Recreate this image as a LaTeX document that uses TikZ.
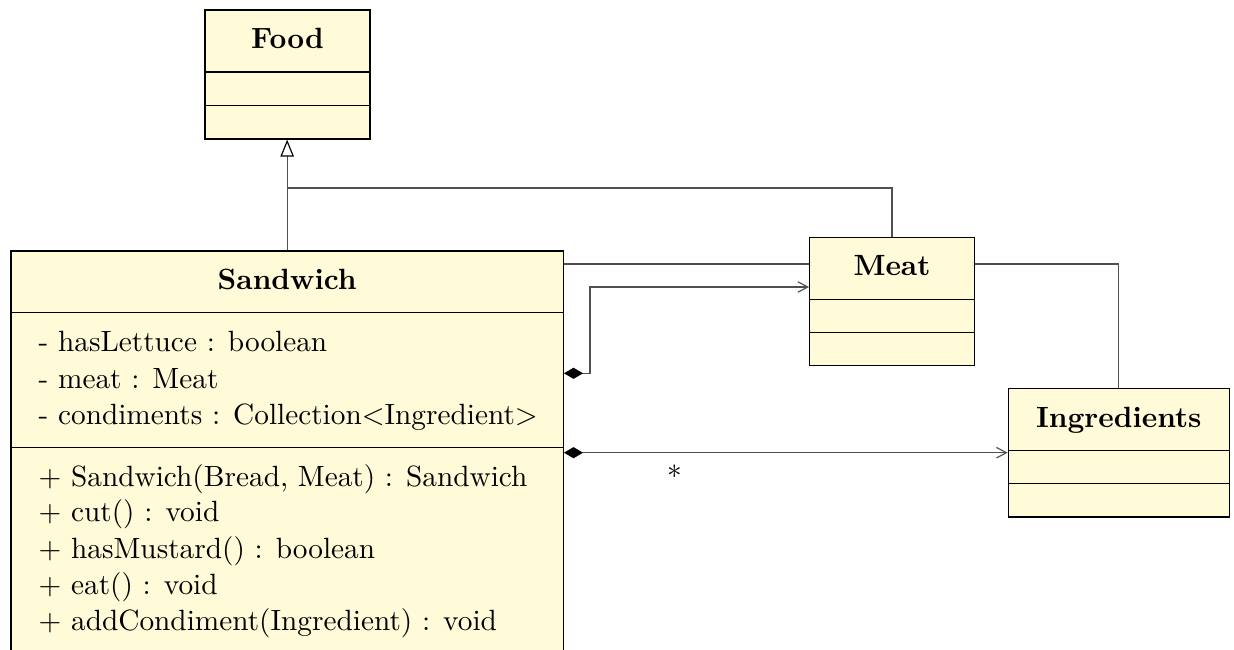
\documentclass[tikz,border=0pt]{standalone}
\usetikzlibrary{arrows.meta,fit}
\definecolor{umlfill}{RGB}{255,250,215}
\definecolor{umlline}{RGB}{80,80,80}
\begin{document}
\begin{tikzpicture}[x=0.3413pt,y=-0.3413pt,
  classbox/.style={draw=black,fill=umlfill,line width=0.45pt,inner sep=0pt},
  divider/.style={draw=black,line width=0.45pt},
  classname/.style={font=\bfseries,anchor=base,inner sep=0pt},
  member/.style={anchor=base west,inner sep=0pt},
  assoc/.style={draw=umlline,line width=0.4pt},
  gen/.style={assoc,-{Triangle[open,length=5.8pt,width=4.6pt,color=black]}},
  comp/.style={assoc,{Diamond[length=6.5pt,width=3.8pt,color=black]}-{Straight Barb[length=3.4pt,width=3.6pt]}},
]
\useasboundingbox (0,0) rectangle (1234,650);

% ---- class frames ----
\coordinate (food-nw) at (205,10);     \coordinate (food-se) at (370,139);
\coordinate (meat-nw) at (809.7,237.3); \coordinate (meat-se) at (974.3,365.7);
\coordinate (ingr-nw) at (1008.3,388.7); \coordinate (ingr-se) at (1229.3,517);
\coordinate (sand-nw) at (11,251);     \coordinate (sand-se) at (563.3,690);

\node[classbox,fit=(food-nw)(food-se)] (food) {};
\node[classbox,fit=(meat-nw)(meat-se)] (meat) {};
\node[classbox,fit=(ingr-nw)(ingr-se)] (ingredients) {};
\node[classbox,fit=(sand-nw)(sand-se)] (sandwich) {};

% compartment separators
\draw[divider] (food.west |- 0,72) -- (food.east |- 0,72);
\draw[divider] (food.west |- 0,105.7) -- (food.east |- 0,105.7);
\draw[divider] (meat.west |- 0,299.3) -- (meat.east |- 0,299.3);
\draw[divider] (meat.west |- 0,332.7) -- (meat.east |- 0,332.7);
\draw[divider] (ingredients.west |- 0,450.3) -- (ingredients.east |- 0,450.3);
\draw[divider] (ingredients.west |- 0,483.3) -- (ingredients.east |- 0,483.3);
\draw[divider] (sandwich.west |- 0,312.7) -- (sandwich.east |- 0,312.7);
\draw[divider] (sandwich.west |- 0,447.3) -- (sandwich.east |- 0,447.3);

% class names
\node[classname] (food-t) at (food.north |- 0,48.5) {Food};
\node[classname] (meat-t) at (meat.north |- 0,275.8) {Meat};
\node[classname] (ingr-t) at (ingredients.north |- 0,427) {Ingredients};
\node[classname] (sand-t) at (sandwich.north |- 0,289.5) {Sandwich};

% Sandwich attributes
\node[member] (a1) at (38,351.7) {- hasLettuce : boolean};
\node[member] (a2) at (38,388) {- meat : Meat};
\node[member] (a3) at (38,424) {- condiments : Collection$<$Ingredient$>$};

% Sandwich operations
\node[member] (m1) at (38,486.7) {$+$ Sandwich(Bread, Meat) : Sandwich};
\node[member] (m2) at (38,521.7) {$+$ cut() : void};
\node[member] (m3) at (38,558) {$+$ hasMustard() : boolean};
\node[member] (m4) at (38,594) {$+$ eat() : void};
\node[member] (m5) at (38,630) {$+$ addCondiment(Ingredient) : void};

% ---- relations ----
% generalisation to Food
\coordinate (genjoin) at (sandwich.north |- 0,188);
\draw[gen] (sandwich.north) -- (sandwich.north |- food.south);
\draw[assoc] (meat.north) |- (genjoin);

% plain associations
\draw[assoc] (sandwich.east |- 0,264) -- (meat.west |- 0,264);
\draw[assoc] (meat.east |- 0,264) -| (ingredients.north);

% compositions
\draw[comp] (sandwich.east |- 0,373.3) -- ++(26,0) |- (meat.west |- 0,287);
\draw[comp] (sandwich.east |- 0,452.7) -- (ingredients.west |- 0,452.7);
\node (mult) at (675,472) {$*$};
\end{tikzpicture}
\end{document}
